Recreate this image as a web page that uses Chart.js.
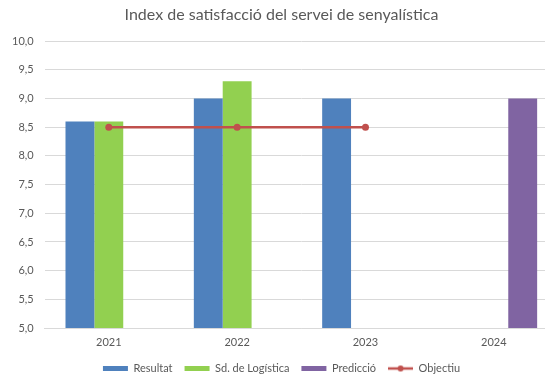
<!DOCTYPE html>
<html>
<head>
<meta charset="utf-8">
<script src="https://cdn.jsdelivr.net/npm/chart.js@4/dist/chart.umd.min.js"></script>
<style>
  html, body { margin: 0; padding: 0; background: #fff; overflow: hidden; }
  #wrap { width: 562px; height: 378px; position: relative; }
</style>
</head>
<body>
<div id="wrap"><canvas id="chart"></canvas></div>
<script>
const years = ["2021", "2022", "2023", "2024"];
const resultat = [8.6, 9.0, 9.0, null];
const logistica = [8.6, 9.3, null, null];
const prediccio = [null, null, null, 9.0];
const objectiu = [8.5, 8.5, 8.5, null];

const grey = "#595959";
const fontFamily = "Lato, 'Open Sans', sans-serif";

// little line + dot icon for the legend entry of the line series
const lineIcon = document.createElement("canvas");
lineIcon.width = 25;
lineIcon.height = 8;
const ic = lineIcon.getContext("2d");
ic.strokeStyle = "#C0504D";
ic.lineWidth = 2.5;
ic.beginPath();
ic.moveTo(0, 4);
ic.lineTo(25, 4);
ic.stroke();
ic.fillStyle = "#C0504D";
ic.beginPath();
ic.arc(12.5, 4, 3, 0, Math.PI * 2);
ic.fill();

const ctx = document.getElementById("chart").getContext("2d");
new Chart(ctx, {
    type: "bar",
    data: {
        labels: years,
        datasets: [
            { label: "Resultat", data: resultat, backgroundColor: "#4F81BD" },
            { label: "Sd. de Logística", data: logistica, backgroundColor: "#92D050" },
            { label: "Predicció", data: prediccio, backgroundColor: "#8064A2" },
            {
                type: "line",
                label: "Objectiu",
                data: objectiu,
                order: -1,
                borderColor: "#C0504D",
                backgroundColor: "#C0504D",
                borderWidth: 2.5,
                pointRadius: 3.5,
                pointBackgroundColor: "#C0504D",
                pointBorderWidth: 0,
                fill: false,
                tension: 0,
            },
        ],
    },
    options: {
        responsive: true,
        maintainAspectRatio: false,
        animation: false,
        datasets: {
            bar: { categoryPercentage: 0.675, barPercentage: 1.0 },
        },
        layout: { padding: { top: 4, left: 1, right: 0, bottom: -6 } },
        plugins: {
            title: {
                display: true,
                text: "Index de satisfacció del servei de senyalística",
                color: grey,
                font: { family: fontFamily, size: 16, weight: "normal" },
                padding: { top: 1, bottom: 17 },
            },
            legend: {
                position: "bottom",
                labels: {
                    color: grey,
                    font: { family: fontFamily, size: 11 },
                    usePointStyle: true,
                    pointStyleWidth: 25,
                    boxHeight: 5,
                    padding: 12,
                    sort: (a, b) => a.datasetIndex - b.datasetIndex,
                    generateLabels: (chart) => {
                        const items = Chart.defaults.plugins.legend.labels.generateLabels(chart);
                        items.forEach((it) => {
                            it.pointStyle = it.datasetIndex === 3 ? lineIcon : "rect";
                            it.lineWidth = 0;
                        });
                        return items;
                    },
                },
            },
            tooltip: { enabled: false },
        },
        scales: {
            x: {
                grid: { display: false, drawTicks: false },
                border: { display: true, color: "#D9D9D9" },
                ticks: { color: grey, font: { family: fontFamily, size: 11 }, padding: 8 },
                afterFit: (scale) => { scale.height = 23; },
            },
            y: {
                min: 5,
                max: 10,
                grid: { color: "#D9D9D9", drawTicks: false },
                border: { display: false },
                ticks: {
                    stepSize: 0.5,
                    color: grey,
                    padding: 11,
                    font: { family: fontFamily, size: 11 },
                    callback: (v) => v.toFixed(1).replace(".", ","),
                },
            },
        },
    },
});
</script>
</body>
</html>
